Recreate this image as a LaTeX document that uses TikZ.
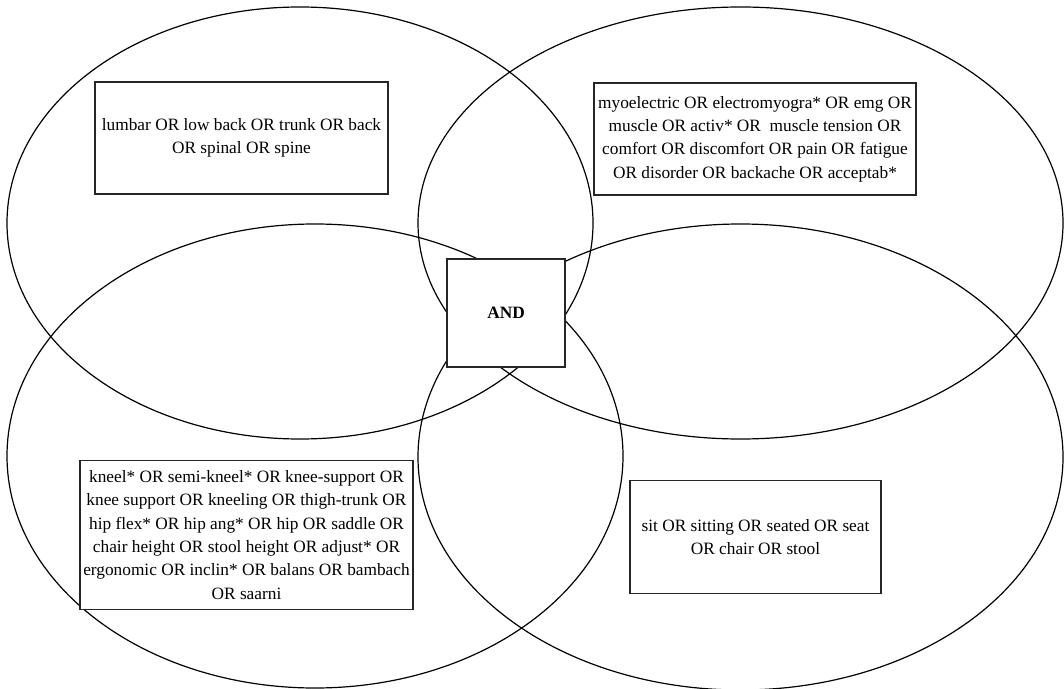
\documentclass[tikz,border=0pt]{standalone}
\usepackage{fontspec}
\setmainfont{Liberation Serif}
\begin{document}
\begin{tikzpicture}[x=0.5pt,y=-0.5pt,
  ring/.style={draw=black,line width=0.6pt},
  termbox/.style={draw=black!85,line width=0.65pt,fill=white,inner sep=0pt,align=center,
    font=\fontsize{8.65}{11.65}\selectfont},
  andbox/.style={draw=black!85,line width=0.65pt,fill=white,inner sep=0pt,
    minimum width=59pt,minimum height=54pt,font=\fontsize{8.65}{11.65}\selectfont\bfseries}]
\useasboundingbox (0,0) rectangle (1064,689);
% four sets
\coordinate (c1) at (300,223);
\coordinate (c2) at (740.5,223);
\coordinate (c3) at (315,456);
\coordinate (c4) at (740.5,457);
\draw[ring] (c1) ellipse [x radius=146.5pt, y radius=108pt];
\draw[ring] (c2) ellipse [x radius=161.25pt, y radius=108pt];
\draw[ring] (c3) ellipse [x radius=154pt, y radius=116pt];
\draw[ring] (c4) ellipse [x radius=161.25pt, y radius=116.5pt];
% term boxes
\node[termbox,minimum width=146.5pt,minimum height=56pt] (b1) at (241.5,138)
  {lumbar OR low back OR trunk OR back\\OR spinal OR spine};
\node[termbox,minimum width=161pt,minimum height=56pt] (b2) at (755,139)
  {myoelectric OR electromyogra* OR emg OR\\muscle OR activ* OR\ \ muscle tension OR\\comfort OR discomfort OR pain OR fatigue\\OR disorder OR backache OR acceptab*};
\node[termbox,minimum width=166.5pt,minimum height=74.25pt] (b3) at (246.5,535)
  {kneel* OR semi-kneel* OR knee-support OR\\knee support OR kneeling OR thigh-trunk OR\\hip flex* OR hip ang* OR hip OR saddle OR\\chair height OR stool height OR adjust* OR\\ergonomic OR inclin* OR balans OR bambach\\OR saarni};
\node[termbox,minimum width=125.5pt,minimum height=56.25pt] (b4) at (755.5,537)
  {sit OR sitting OR seated OR seat\\OR chair OR stool};
\node[andbox] (and) at (506,313) {AND};
\end{tikzpicture}
\end{document}
